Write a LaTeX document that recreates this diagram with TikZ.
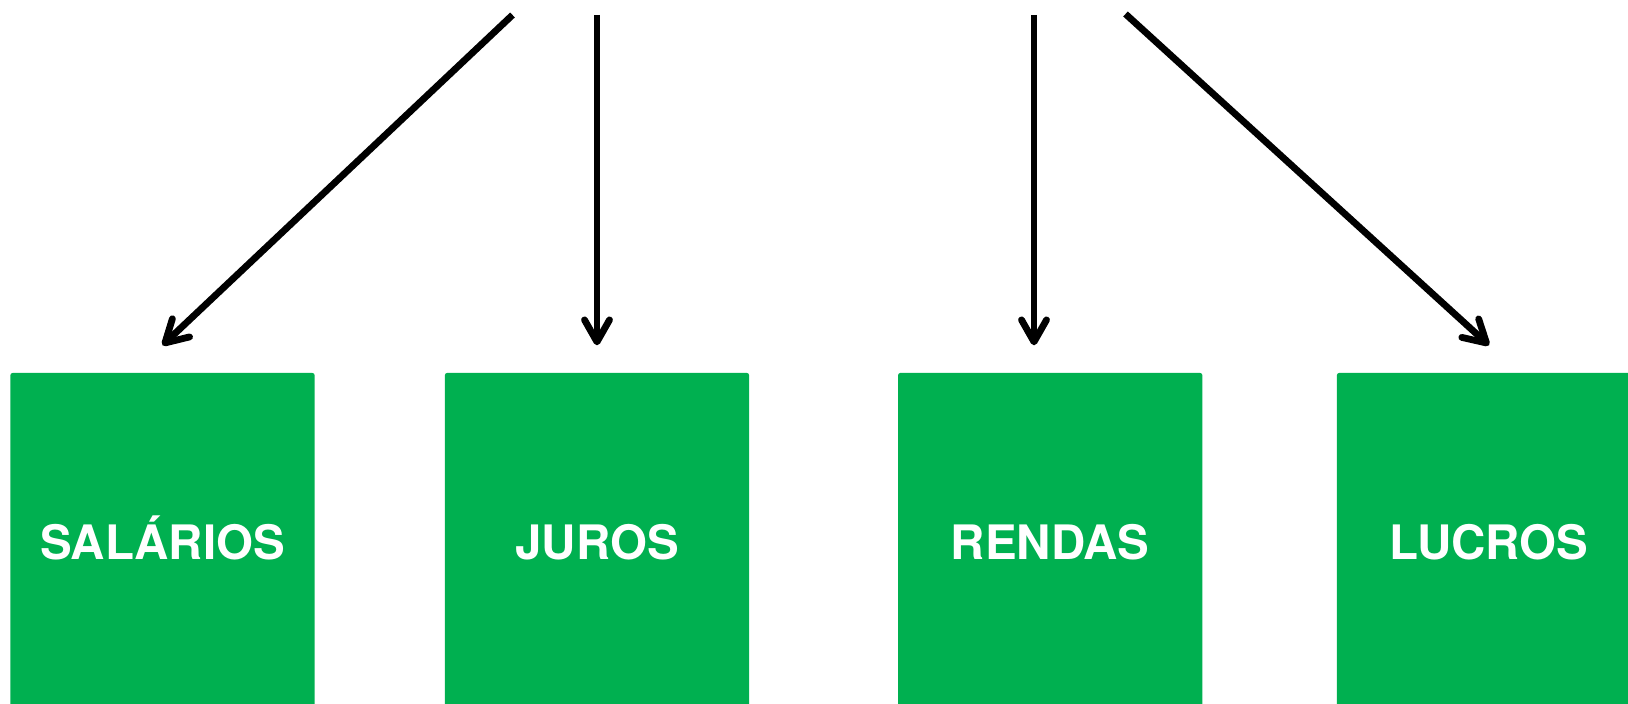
\documentclass[tikz,border=0pt]{standalone}
\usepackage{fontspec}
\setmainfont{TeX Gyre Heros}
\usetikzlibrary{arrows.meta}
\definecolor{fatorverde}{RGB}{0,176,80}
\tikzset{
  fator/.style={fill=fatorverde, rounded corners=0.6pt, inner sep=0,
    minimum width=3.04cm, minimum height=3.37cm, text=white,
    font=\fontsize{13.5}{16}\selectfont\bfseries, text height=0.35cm, text depth=0pt},
  seta/.style={line width=0.068cm, -{Straight Barb[length=0.22cm,width=0.25cm,round]}}
}
\begin{document}
\begin{tikzpicture}[x=0.01cm,y=-0.01cm]
    \useasboundingbox (0,0) rectangle (1628,704);
    % caixas
    \foreach \nome/\txt/\x in {sal/SALÁRIOS/162.5,jur/JUROS/597,ren/RENDAS/1050.2,luc/LUCROS/1489}
        \node[fator] (\nome) at (\x,541.6) {\txt};
    % setas
    \coordinate (o1) at (512.5,15);
    \coordinate (o2) at (597,15);
    \coordinate (o3) at (1034,15);
    \coordinate (o4) at (1125.5,14);
    \draw[seta] (o1) -- ([yshift=0.27cm]sal.north);
    \draw[seta] (o2) -- ([yshift=0.27cm]o2 |- jur.north);
    \draw[seta] (o3) -- ([yshift=0.27cm]o3 |- ren.north);
    \draw[seta] (o4) -- ([yshift=0.27cm]luc.north);
\end{tikzpicture}
\end{document}
